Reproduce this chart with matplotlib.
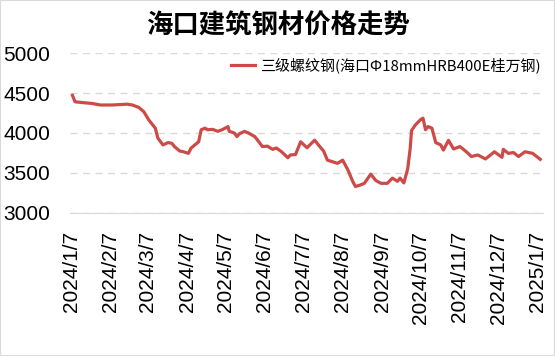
import matplotlib
matplotlib.use("Agg")
import matplotlib.pyplot as plt
import matplotlib.dates as mdates
import pandas as pd
from matplotlib.patches import Rectangle

# values
dates = [
    "2024-01-08", "2024-01-10", "2024-01-16", "2024-01-23", "2024-01-30",
    "2024-02-08", "2024-02-20", "2024-02-24", "2024-02-29", "2024-03-04",
    "2024-03-08", "2024-03-13", "2024-03-15", "2024-03-19", "2024-03-23",
    "2024-03-26", "2024-03-28", "2024-04-01", "2024-04-04", "2024-04-08",
    "2024-04-10", "2024-04-13", "2024-04-16", "2024-04-18", "2024-04-21",
    "2024-04-23", "2024-04-27", "2024-05-01", "2024-05-05", "2024-05-09",
    "2024-05-10", "2024-05-14", "2024-05-16", "2024-05-18", "2024-05-22",
    "2024-05-25", "2024-05-30", "2024-06-01", "2024-06-05", "2024-06-09",
    "2024-06-13", "2024-06-16", "2024-06-20", "2024-06-25", "2024-06-27",
    "2024-07-01", "2024-07-05", "2024-07-10", "2024-07-16", "2024-07-20",
    "2024-07-23", "2024-07-26", "2024-07-30", "2024-08-03", "2024-08-07",
    "2024-08-11", "2024-08-15", "2024-08-17", "2024-08-21", "2024-08-24",
    "2024-08-29", "2024-09-02", "2024-09-06", "2024-09-11", "2024-09-15",
    "2024-09-19", "2024-09-21", "2024-09-24", "2024-09-27", "2024-09-29",
    "2024-09-30", "2024-10-03", "2024-10-07", "2024-10-09", "2024-10-11",
    "2024-10-13", "2024-10-16", "2024-10-19", "2024-10-23", "2024-10-25",
    "2024-10-29", "2024-11-02", "2024-11-07", "2024-11-12", "2024-11-16",
    "2024-11-21", "2024-11-27", "2024-12-01", "2024-12-04", "2024-12-10",
    "2024-12-11", "2024-12-15", "2024-12-19", "2024-12-23", "2024-12-28",
    "2025-01-03", "2025-01-09",
]
prices = [
    4470, 4390, 4380, 4370, 4350,
    4350, 4360, 4350, 4320, 4265,
    4160, 4060, 3935, 3850, 3880,
    3870, 3830, 3775, 3765, 3745,
    3810, 3850, 3890, 4040, 4060,
    4040, 4045, 4020, 4045, 4080,
    4020, 4000, 3955, 3990, 4020,
    4000, 3955, 3915, 3830, 3835,
    3795, 3812, 3765, 3690, 3725,
    3730, 3890, 3815, 3910, 3830,
    3775, 3660, 3640, 3620, 3660,
    3540, 3390, 3330, 3350, 3370,
    3485, 3405, 3370, 3370, 3435,
    3395, 3435, 3375, 3550, 3810,
    4030, 4100, 4165, 4185, 4040,
    4080, 4060, 3880, 3850, 3785,
    3908, 3800, 3830, 3765, 3705,
    3725, 3675, 3725, 3765, 3695,
    3795, 3745, 3755, 3705, 3765,
    3745, 3670,
]
series_name = "三级螺纹钢(海口Φ18mmHRB400E桂万钢)"
title = "海口建筑钢材价格走势"
tick_dates = pd.date_range("2024-01-01", "2025-01-01", freq="MS") + pd.Timedelta(days=6)

cjk = ["Noto Sans CJK SC", "DejaVu Sans"]

fig = plt.figure(figsize=(5.55, 3.56), dpi=100)
ax = fig.add_axes([0.126, 0.402, 0.852, 0.449])

ax.plot(pd.to_datetime(dates), prices, color="#CC4B48", linewidth=2.3,
        label=series_name)

ax.set_ylim(3000, 5000)
ax.set_yticks([3000, 3500, 4000, 4500, 5000])
ax.set_xlim(pd.Timestamp("2024-01-06"), pd.Timestamp("2025-01-11"))
ax.set_xticks(tick_dates)
ax.set_xticklabels([f"{d.year}/{d.month}/{d.day}" for d in tick_dates])

ax.grid(axis="y", color="#D9D9D9", linestyle=(0, (5, 4)), linewidth=1)
for s in ["left", "right", "top"]:
    ax.spines[s].set_visible(False)
ax.spines["bottom"].set_color("#D9D9D9")
ax.tick_params(length=0)
ax.tick_params(axis="y", pad=14)
ax.tick_params(axis="x", pad=13)
for lbl in ax.get_yticklabels():
    lbl.set_fontfamily("Liberation Sans")
    lbl.set_fontsize(15)
for lbl in ax.get_xticklabels():
    lbl.set_fontfamily("Liberation Sans")
    lbl.set_fontsize(15)
    lbl.set_rotation(90)
    lbl.set_va("top")
    lbl.set_ha("center")

fig.text(0.5, 0.928, title, ha="center", va="center", fontsize=19,
         fontweight="bold", family=cjk)

fig.legend(loc="center right", bbox_to_anchor=(0.975, 0.817), frameon=False,
           borderpad=0, borderaxespad=0, handlelength=1.6, handletextpad=0.4,
           prop={"family": cjk, "size": 10.8})

fig.add_artist(Rectangle((0, 0), 1, 1, transform=fig.transFigure, fill=False,
                         edgecolor="#D9D9D9", linewidth=1.5))

fig.savefig("out.png", dpi=100)
